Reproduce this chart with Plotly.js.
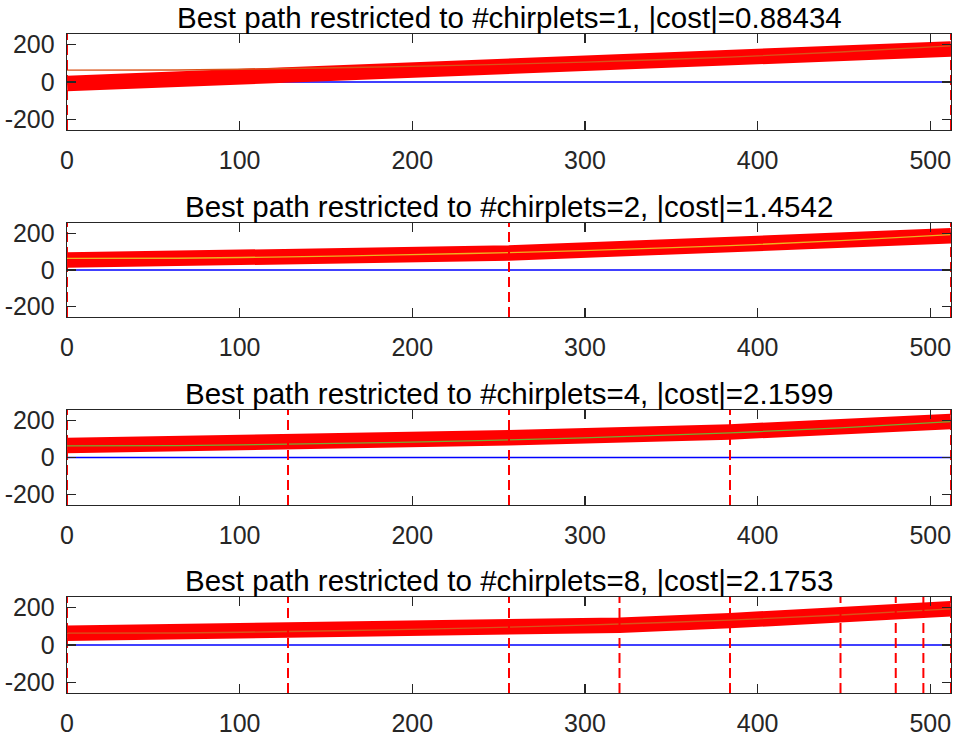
<!DOCTYPE html>
<html>
<head>
<meta charset="utf-8">
<script src="https://cdn.plot.ly/plotly-3.0.1.min.js"></script>
<style>
  html, body { margin: 0; padding: 0; background: #fff; }
  #plot { width: 956px; height: 737px; }
</style>
</head>
<body>
<div id="plot"></div>
<script>
// true instantaneous frequency (thin line)
const xTrue = [0, 64, 128, 192, 256, 320, 384, 448, 512];
const fTrue = [63, 64, 72, 82, 95, 112, 133, 160, 193];

// best chirplet paths: segment boundaries and frequency at each boundary
const bounds1 = [0, 512];
const path1 = [-8, 176];
const bounds2 = [0, 256, 512];
const path2 = [54, 92, 186];
const bounds4 = [0, 128, 256, 384, 512];
const path4 = [64, 76, 106, 138, 194];
const bounds8 = [0, 128, 256, 320, 384, 448, 480, 496, 512];
const path8 = [63, 72, 86, 106, 130, 159, 173, 183, 193];

const nChirplets = [1, 2, 4, 8];
const costs = ['0.88434', '1.4542', '2.1599', '2.1753'];
const zeroX = [0, 512];
const zeroY = [0, 0];
const yLimits = [-256, 256];
const yTicks = [-200, 0, 200];
const yTickText = ['-200', '0', '200'];
const xTicks = [0, 100, 200, 300, 400, 500];

const allBounds = [bounds1, bounds2, bounds4, bounds8];
const allPaths = [path1, path2, path4, path8];
const trueColors = ['#D95319', '#EDB120', '#77AC30', '#D95319'];

// plot area positions in pixels (top, bottom)
const H = 737;
const boxes = [[34, 130], [223, 317], [410, 505], [597, 693]];

const traces = [];
const layout = {
  width: 956, height: 737,
  margin: { l: 67, r: 5, t: 0, b: 0 },
  paper_bgcolor: '#fff', plot_bgcolor: '#fff',
  showlegend: false,
  font: { family: 'Liberation Sans, Arial, sans-serif', color: '#262626' },
  annotations: []
};

allPaths.forEach((path, i) => {
  const k = i === 0 ? '' : String(i + 1);
  const xa = 'x' + k, ya = 'y' + k;

  traces.push({ x: zeroX, y: zeroY, xaxis: xa, yaxis: ya, mode: 'lines',
    line: { color: '#0000ff', width: 1.3 }, hoverinfo: 'skip' });
  traces.push({ x: allBounds[i], y: path, xaxis: xa, yaxis: ya, mode: 'lines',
    line: { color: '#ff0000', width: 15.5 }, hoverinfo: 'skip' });
  traces.push({ x: xTrue, y: fTrue, xaxis: xa, yaxis: ya, mode: 'lines',
    line: { color: trueColors[i], width: 1.3, shape: 'spline' }, hoverinfo: 'skip' });

  const dx = [], dy = [];
  allBounds[i].forEach(b => { dx.push(b, b, null); dy.push(yLimits[0], yLimits[1], null); });
  traces.push({ x: dx, y: dy, xaxis: xa, yaxis: ya, mode: 'lines',
    line: { color: '#ff0000', width: 2, dash: '10px,5px' }, hoverinfo: 'skip' });

  const [top, bot] = boxes[i];
  const axCommon = {
    showgrid: false, zeroline: false, showline: true, mirror: 'ticks',
    linecolor: '#262626', linewidth: 1.3,
    ticks: 'inside', ticklen: 9, tickwidth: 1.3, tickcolor: '#262626',
    tickfont: { size: 25, color: '#262626' }
  };
  layout['xaxis' + k] = Object.assign({}, axCommon, {
    anchor: ya, domain: [0, 1], range: [0, 512], tickvals: xTicks,
    ticklabelstandoff: 8
  });
  layout['yaxis' + k] = Object.assign({}, axCommon, {
    anchor: xa, domain: [1 - bot / H, 1 - top / H], range: yLimits,
    tickvals: yTicks, ticktext: yTickText, ticklabelstandoff: 6
  });
  layout.annotations.push({
    text: 'Best path restricted to #chirplets=' + nChirplets[i] + ', |cost|=' + costs[i],
    xref: 'paper', yref: 'paper', x: 0.5, y: 1 - top / H,
    xanchor: 'center', yanchor: 'bottom', yshift: -2, showarrow: false,
    font: { size: 29.5, color: '#000' }
  });
});

Plotly.newPlot('plot', traces, layout, { displayModeBar: false, staticPlot: true });
</script>
</body>
</html>
